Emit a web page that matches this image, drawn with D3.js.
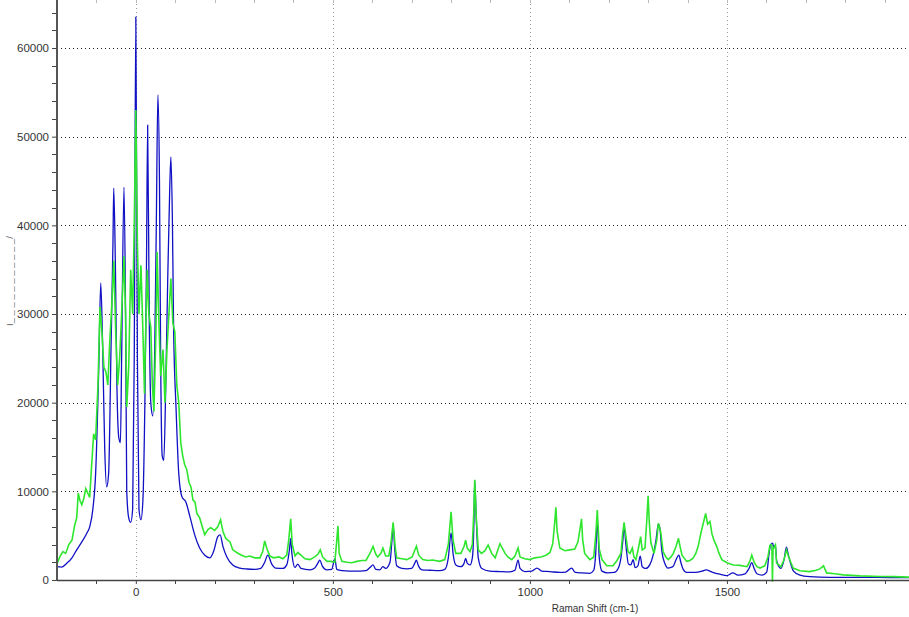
<!DOCTYPE html>
<html><head><meta charset="utf-8">
<script src="https://cdn.jsdelivr.net/npm/d3@7"></script>
<style>html,body{margin:0;padding:0;background:#fff;}svg{display:block;}</style>
</head><body>
<svg id="chart" width="909" height="617"></svg>
<script>
const blueShift = [-200,-188,-175,-162,-150,-137,-124,-117,-109,-102,-94,-89,-84,-79,-74,-69,-63,-58,-56,-52,-48,-43,-39,-36,-30,-26,-23,-18,-13,-8,-4,0,4,8,13,18,23,27,30,34,38,43,48,52,56,60,63,67,71,76,81,86,89,93,96,102,109,117,127,137,150,162,175,188,198,208,214,221,231,246,264,282,302,317,327,335,345,355,373,383,390,393,396,404,411,419,442,454,462,467,473,485,497,505,510,523,543,569,584,594,602,609,619,627,634,645,650,653,657,662,675,688,700,708,712,717,726,746,771,784,793,800,805,812,825,833,837,841,848,854,858,860,864,869,878,898,924,949,962,970,975,987,1005,1018,1030,1051,1076,1091,1106,1114,1132,1152,1162,1167,1171,1176,1183,1198,1214,1224,1231,1236,1239,1244,1250,1256,1262,1267,1274,1280,1285,1294,1304,1312,1320,1326,1330,1335,1343,1350,1363,1370,1378,1383,1388,1398,1419,1437,1447,1462,1482,1500,1515,1528,1546,1556,1563,1569,1576,1589,1601,1607,1611,1616,1619,1623,1626,1632,1637,1645,1651,1656,1662,1669,1685,1710,1761,1838,1914,1962];
const blueIntensity = [1500,1450,1900,2500,3400,4300,5300,6000,8000,12000,24000,33500,26000,15000,10500,12000,26000,38000,44200,36000,22000,16000,15500,25000,44300,30000,10000,7000,6500,8000,25000,63500,25000,8000,6800,9000,20000,35000,51300,30000,20000,18500,26000,40000,54700,45000,25000,14000,13500,22000,34000,44000,47700,40000,28000,19500,12000,9400,8800,7200,5000,3600,2800,2500,3300,4900,5100,3800,2600,1700,1350,1240,1200,1300,2000,2800,1800,1350,1300,1700,3500,4700,3000,1400,1800,1300,1150,1350,1900,2250,1600,1150,1200,2400,1200,1050,1000,1000,1050,1400,1700,1200,1150,1500,1300,2000,4500,6200,3500,1600,1300,1250,1300,1900,2250,1600,1150,1100,1050,1200,2500,5300,3000,1700,1500,1900,2450,1900,1700,2500,6500,11200,6800,2500,1300,1000,950,920,1100,2250,1300,950,1000,1350,1000,950,850,900,1350,900,800,750,1100,3000,6700,2500,1000,800,850,1300,2500,4500,6000,3800,1800,1700,2300,1400,1600,2700,1500,1300,1700,2700,4500,6300,5800,3200,1800,1350,1500,2200,2800,2000,1300,850,850,1000,1150,900,650,500,800,550,700,1300,1950,1300,700,550,900,3000,4000,4150,3600,3950,2200,1500,1300,2300,3700,2800,1800,1000,550,380,300,300,280,260];

const greenShift = [-200,-193,-185,-178,-170,-162,-155,-150,-146,-142,-137,-132,-127,-122,-117,-112,-107,-102,-96,-91,-86,-81,-76,-71,-66,-61,-56,-51,-46,-41,-36,-30,-26,-23,-18,-13,-8,-4,0,4,8,13,18,22,25,29,33,38,42,46,51,54,58,63,69,74,79,84,89,94,99,104,109,114,119,124,129,135,140,145,150,155,162,170,175,183,190,200,208,215,221,228,239,246,256,266,279,289,302,315,322,327,333,340,350,363,373,383,388,393,397,404,411,419,429,442,454,462,468,474,485,495,505,510,513,516,523,536,548,561,574,584,594,602,609,614,622,627,634,642,647,653,658,662,675,688,701,712,718,728,741,753,771,784,793,800,805,812,825,833,837,841,848,854,858,860,864,869,877,886,894,903,912,918,924,930,937,944,954,962,970,975,987,1000,1012,1028,1041,1051,1058,1063,1066,1069,1076,1089,1101,1114,1122,1128,1131,1134,1139,1152,1162,1167,1171,1176,1183,1195,1211,1221,1231,1235,1239,1244,1249,1254,1260,1264,1269,1275,1281,1285,1292,1297,1300,1303,1307,1315,1322,1326,1332,1338,1345,1351,1358,1364,1371,1377,1381,1386,1398,1406,1414,1421,1427,1434,1440,1446,1451,1457,1462,1467,1474,1480,1487,1500,1516,1533,1551,1558,1563,1569,1576,1584,1596,1604,1609,1612,1614,1615.5,1617,1623,1626,1637,1645,1651,1656,1662,1668,1685,1710,1726,1736,1745,1753,1774,1795,1838,1889,1922,1962];
const greenIntensity = [1800,2600,3200,3000,4000,4500,6200,7000,9800,9000,8500,9200,10300,9800,9300,13000,16500,15800,22000,30800,28000,24000,23500,22000,27000,31000,36000,28000,22000,25000,30000,36500,30000,19500,24000,35000,30000,40000,53000,38000,30000,35500,28000,21000,28000,35000,30000,28500,22000,19000,28000,37000,30000,23000,26000,20000,26000,30000,34000,29000,28000,22000,20000,15500,14000,13000,12500,11000,10500,9000,8800,7500,7000,5800,5100,5700,5900,5600,6000,6800,5500,4700,4300,3400,3100,2850,2600,2700,2500,2500,3200,4400,3500,2700,2500,2600,2400,2800,4500,6900,4000,2700,3100,2800,2400,2300,2600,2900,3400,2600,2100,2100,2000,4500,6100,3000,2100,2000,1950,2100,2200,2200,3000,3800,2900,2600,3000,3600,2700,2700,4000,6500,3800,2500,2400,2300,2600,3800,2800,2300,2200,2250,2100,2300,4000,7700,4500,3000,3000,3800,4500,3600,3200,4000,8000,11300,7000,3400,3000,3300,3950,3000,2500,3300,4100,3600,3000,2600,2300,2700,3600,2600,2400,2300,2500,2600,2800,3100,4100,6500,8200,5500,3600,3300,3400,3500,4300,6000,6900,4500,3000,2300,2600,5000,7900,3500,2300,1600,1600,2200,3000,5000,6500,4800,3200,3000,3600,2600,2300,3500,4900,3400,3600,7000,9500,6500,4200,3000,4500,6400,5400,3200,2600,2300,2600,3000,3800,4700,3800,2800,2100,2200,2450,3000,3800,5300,6400,7500,6300,6600,5200,4500,3800,3000,2300,1950,1700,1650,1500,2100,2800,2000,1500,1350,1600,2600,3900,4000,3900,-200,3500,3950,1900,1500,2300,3400,2700,2000,1350,1050,950,1100,1250,1600,800,700,580,460,400,380,320];

const xTicks = [0,500,1000,1500];
const yTicks = [0,10000,20000,30000,40000,50000,60000];
const xTitle = "Raman Shift (cm-1)";
const yTitle = "I_ _ _ _ _ _ _ _ _ _ _/";

(function draw() {
const svg = d3.select("#chart");
const padL = 57, padR = 909, padT = 0, padB = 580;
const x = d3.scaleLinear().domain([-200, 1962]).range([padL, padR]);
const y = d3.scaleLinear().domain([0, 65414]).range([padB, padT]);

const grid = svg.append("g");
grid.selectAll("line.h").data(yTicks.filter(d=>d>0)).join("line")
  .attr("x1", padL).attr("x2", padR).attr("y1", d=>Math.round(y(d))+0.5).attr("y2", d=>Math.round(y(d))+0.5)
  .attr("stroke", "#222").attr("stroke-width", 1).attr("stroke-dasharray", "1,3");
grid.selectAll("line.v").data(xTicks).join("line")
  .attr("x1", d=>Math.round(x(d))+0.5).attr("x2", d=>Math.round(x(d))+0.5).attr("y1", padT).attr("y2", padB)
  .attr("stroke", "#999").attr("stroke-width", 1).attr("stroke-dasharray", "1,3");

svg.append("g").selectAll("line").data(d3.range(-100, 1962, 100)).join("line")
  .attr("x1", d=>Math.round(x(d))+0.5).attr("x2", d=>Math.round(x(d))+0.5).attr("y1", 0).attr("y2", 3)
  .attr("stroke", "#bbb");

svg.append("path").datum(blueShift)
  .attr("d", d3.line().curve(d3.curveMonotoneX).x((d,i)=>x(blueShift[i])).y((d,i)=>y(blueIntensity[i])))
  .attr("fill", "none").attr("stroke", "#1010c4").attr("stroke-width", 1.3);

svg.append("path").datum(greenShift)
  .attr("d", d3.line().x((d,i)=>x(greenShift[i])).y((d,i)=>y(greenIntensity[i])))
  .attr("fill", "none").attr("stroke", "#2ee62e").attr("stroke-width", 1.6).attr("stroke-linejoin", "miter");

const yAxis = d3.axisLeft(y).tickValues(yTicks).tickSize(5).tickFormat(d3.format("d"));
const gy = svg.append("g").attr("transform", `translate(${padL},0)`).call(yAxis);
gy.select(".domain").remove();
gy.selectAll(".tick line").attr("stroke", "#444");
gy.selectAll("text").attr("font-family", "Liberation Sans, Arial, sans-serif").attr("font-size", 11.5).attr("fill", "#333").attr("x", -8);
svg.append("g").selectAll("line").data(d3.range(2000, 65414, 2000).filter(d=>d%10000!==0)).join("line")
  .attr("x1", padL-5).attr("x2", padL).attr("y1", d=>Math.round(y(d))+0.5).attr("y2", d=>Math.round(y(d))+0.5)
  .attr("stroke", "#444");
svg.append("line").attr("x1", padL).attr("x2", padL).attr("y1", 0).attr("y2", padB+1)
  .attr("stroke", "#555").attr("stroke-width", 2);

const xAxis = d3.axisBottom(x).tickValues(xTicks).tickSize(4).tickFormat(d3.format("d"));
const gx = svg.append("g").attr("transform", `translate(0,${padB})`).call(xAxis);
gx.select(".domain").remove();
gx.selectAll(".tick line").attr("stroke", "#444");
gx.selectAll("text").attr("font-family", "Liberation Sans, Arial, sans-serif").attr("font-size", 11.5).attr("fill", "#333").attr("y", 8);
svg.append("g").selectAll("line").data(d3.range(-100, 1962, 100).filter(d=>d%500!==0)).join("line")
  .attr("x1", d=>Math.round(x(d))+0.5).attr("x2", d=>Math.round(x(d))+0.5).attr("y1", padB).attr("y2", padB+4)
  .attr("stroke", "#444");
svg.append("line").attr("x1", padL).attr("x2", padR).attr("y1", padB+0.5).attr("y2", padB+0.5)
  .attr("stroke", "#444").attr("stroke-width", 1.5);

svg.append("text").attr("x", 595).attr("y", 612).attr("text-anchor", "middle")
  .attr("font-family", "Liberation Sans, Arial, sans-serif").attr("font-size", 10).attr("fill", "#333").text(xTitle);
svg.append("text").attr("transform", "translate(13,326) rotate(-90)")
  .attr("font-family", "Liberation Sans, Arial, sans-serif").attr("font-size", 9.5).attr("fill", "#666").text(yTitle);
})();
</script>
</body></html>
